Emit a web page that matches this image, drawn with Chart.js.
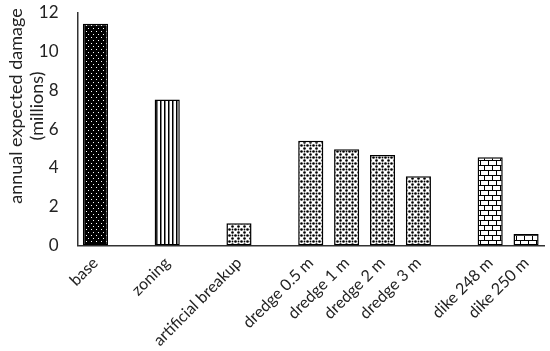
<!DOCTYPE html>
<html>
<head>
<meta charset="utf-8">
<script src="https://cdn.jsdelivr.net/npm/chart.js@4"></script>
<style>
  html, body { margin: 0; padding: 0; background: #fff; }
  #wrap { width: 550px; height: 351px; }
</style>
</head>
<body>
<div id="wrap"><canvas id="c" width="550" height="351"></canvas></div>
<script>
const categories = ['base', '', 'zoning', '', 'artificial breakup', '', 'dredge 0.5 m', 'dredge 1 m', 'dredge 2 m', 'dredge 3 m', '', 'dike 248 m', 'dike 250 m'];
const damage = [11.45, null, 7.53, null, 1.15, null, 5.41, 4.97, 4.67, 3.57, null, 4.55, 0.6];
const fillTypes = ['darkdots', null, 'vertical', null, 'dots', null, 'dots', 'dots', 'dots', 'dots', null, 'brick', 'brick'];
const yTitle = ['annual expected damage', '(millions)'];
const yMin = 0, yMax = 12, yStep = 2;

const FONT = 'Lato, "Open Sans", sans-serif';

function makePattern(type) {
  const t = document.createElement('canvas');
  const g = t.getContext('2d');
  if (type === 'darkdots') {
    t.width = 5; t.height = 6;
    g.fillStyle = '#000'; g.fillRect(0, 0, 5, 6);
    g.fillStyle = '#fff';
    g.fillRect(1, 1, 1, 1);
    g.fillRect(3, 4, 1, 1);
  } else if (type === 'vertical') {
    t.width = 4; t.height = 4;
    g.fillStyle = '#fff'; g.fillRect(0, 0, 4, 4);
    g.fillStyle = '#000'; g.fillRect(0, 0, 1.5, 4);
  } else if (type === 'dots') {
    t.width = 6; t.height = 6;
    g.fillStyle = '#fff'; g.fillRect(0, 0, 6, 6);
    g.fillStyle = '#000';
    g.beginPath(); g.arc(1.5, 1.5, 1.3, 0, Math.PI * 2); g.fill();
    g.beginPath(); g.arc(4.5, 4.5, 1.3, 0, Math.PI * 2); g.fill();
    g.beginPath(); g.arc(4.5, 1.5, 0.9, 0, Math.PI * 2); g.fill();
  } else if (type === 'brick') {
    t.width = 8; t.height = 10;
    g.fillStyle = '#fff'; g.fillRect(0, 0, 8, 10);
    g.fillStyle = '#000';
    g.fillRect(0, 0, 8, 1);
    g.fillRect(0, 5, 8, 1);
    g.fillRect(0, 0, 1, 5);
    g.fillRect(4, 5, 1, 5);
  } else {
    return 'rgba(0,0,0,0)';
  }
  return g.createPattern(t, 'repeat');
}

const fills = fillTypes.map(makePattern);

const titlePlugin = {
  id: 'yTitleText',
  afterDraw(chart) {
    const ctx = chart.ctx;
    ctx.save();
    ctx.fillStyle = '#222';
    ctx.font = '18px ' + FONT;
    ctx.textAlign = 'center';
    ctx.textBaseline = 'middle';
    ctx.translate(0, 106);
    ctx.rotate(-Math.PI / 2);
    ctx.fillText(yTitle[0], 0, 16);
    ctx.fillText(yTitle[1], 0, 37);
    ctx.restore();
  }
};

new Chart(document.getElementById('c'), {
  type: 'bar',
  data: {
    labels: categories,
    datasets: [{
      data: damage,
      backgroundColor: fills,
      borderColor: '#000',
      borderWidth: 1.5,
      borderSkipped: false,
      barPercentage: 0.7,
      categoryPercentage: 1.0
    }]
  },
  options: {
    responsive: false,
    animation: false,
    devicePixelRatio: 1,
    layout: { padding: { left: 0, right: 6, top: 13, bottom: 0 } },
    plugins: { legend: { display: false }, tooltip: { enabled: false } },
    scales: {
      x: {
        grid: { display: false, drawTicks: false },
        border: { display: true, color: '#333', width: 1.5 },
        ticks: {
          color: '#222',
          font: { family: FONT, size: 16 },
          maxRotation: 45, minRotation: 45,
          autoSkip: false,
          padding: 8
        },
        afterFit(scale) { scale.height = 105.5; scale.paddingLeft = 0; scale.paddingRight = 0; }
      },
      y: {
        min: yMin, max: yMax,
        grid: { display: false, drawTicks: false },
        border: { display: true, color: '#333', width: 1.5 },
        ticks: {
          stepSize: yStep,
          color: '#222',
          font: { family: FONT, size: 17 },
          padding: 19
        },
        afterFit(scale) { scale.width = 77.5; scale.paddingTop = 0; scale.paddingBottom = 0; }
      }
    }
  },
  plugins: [titlePlugin]
});
</script>
</body>
</html>
